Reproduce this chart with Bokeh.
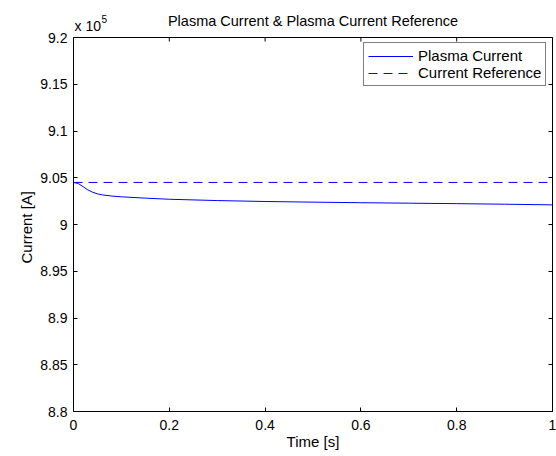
from bokeh.plotting import figure
from bokeh.models import (LinearAxis, FixedTicker, Label, Range1d, Legend,
                          LegendItem, CustomJSTickFormatter, Span, Title)
from bokeh.embed import file_html
from bokeh.resources import INLINE

# ---------------- data ----------------
time_s = [0.0, 0.01, 0.02, 0.03, 0.04, 0.05, 0.06, 0.08, 0.10, 0.15,
          0.20, 0.30, 0.40, 0.50, 0.60, 0.70, 0.80, 0.90, 1.00]
plasma_current = [904500, 904380, 904050, 903700, 903450, 903280, 903170,
                  903040, 902960, 902820, 902700, 902560, 902460, 902390,
                  902330, 902280, 902230, 902170, 902100]
reference_time = [0.0, 1.0]
current_reference = [904500, 904500]

y_scale_exp = 5
x_limits = [0.0, 1.0]
y_limits = [8.8, 9.2]
x_ticks = [0, 0.2, 0.4, 0.6, 0.8, 1.0]
x_tick_labels = ["0", "0.2", "0.4", "0.6", "0.8", "1"]
y_ticks = [8.8, 8.85, 8.9, 8.95, 9.0, 9.05, 9.1, 9.15, 9.2]
y_tick_labels = ["8.8", "8.85", "8.9", "8.95", "9", "9.05", "9.1", "9.15", "9.2"]

title_text = "Plasma Current & Plasma Current Reference"
x_label = "Time [s]"
y_label = "Current [A]"
series_names = ["Plasma Current", "Current Reference"]

# ---------------- layout constants ----------------
FONT = "Liberation Sans"
W, H = 556, 456
BORDER_BOTTOM = 45
BOX_TOP_PX = 37            # axes box top, measured from the canvas top
FRAME_H = H - BORDER_BOTTOM
BOX_H = FRAME_H - BOX_TOP_PX
data_per_px = (y_limits[1] - y_limits[0]) / BOX_H
y_view_end = y_limits[1] + BOX_TOP_PX * data_per_px   # room for title above box
TICK_PX = 4
YLABEL_OFFSET = 148        # lifts the y label from the frame bottom to the box centre

scale = 10 ** y_scale_exp
y_plasma = [v / scale for v in plasma_current]
y_ref = [v / scale for v in current_reference]

p = figure(width=W, height=H, output_backend="svg", toolbar_location=None,
           x_range=Range1d(*x_limits), y_range=Range1d(y_limits[0], y_view_end),
           min_border_left=73, min_border_right=4, min_border_top=0,
           min_border_bottom=BORDER_BOTTOM, x_axis_location=None,
           y_axis_location=None)
p.grid.visible = False
p.outline_line_color = None
p.background_fill_color = "white"
p.border_fill_color = "white"


def fmt(ticks, labels):
    return CustomJSTickFormatter(args=dict(tv=ticks, tl=labels), code="""
        for (let i = 0; i < tv.length; i++) {
            if (Math.abs(tv[i] - tick) < 1e-9) { return tl[i]; }
        }
        return "";
    """)


def style_axis(ax, show_labels):
    ax.axis_line_color = "black"
    ax.axis_line_width = 1
    ax.major_tick_in = TICK_PX
    ax.major_tick_out = 0
    ax.major_tick_line_color = "black"
    ax.minor_tick_line_color = None
    ax.major_label_text_font = FONT
    ax.major_label_text_color = "black"
    ax.major_label_text_font_size = "14px"
    if not show_labels:
        ax.major_label_text_alpha = 0
        ax.major_label_standoff = 0


xb = LinearAxis(ticker=FixedTicker(ticks=x_ticks), formatter=fmt(x_ticks, x_tick_labels),
                axis_label=x_label)
style_axis(xb, True)
xb.major_label_standoff = 8
xb.axis_label_standoff = 0
xb.axis_label_text_font = FONT
xb.axis_label_text_font_size = "15px"
xb.axis_label_text_font_style = "normal"
xb.axis_label_text_color = "black"
p.add_layout(xb, "below")

yl = LinearAxis(ticker=FixedTicker(ticks=y_ticks), formatter=fmt(y_ticks, y_tick_labels),
                bounds=(y_limits[0], y_limits[1]))
style_axis(yl, True)
yl.major_label_standoff = 6
p.add_layout(yl, "left")

# y axis label as a side title, aligned from the bottom and lifted to the box centre
p.add_layout(Title(text=y_label, align="left", offset=YLABEL_OFFSET,
                   standoff=6, text_font=FONT, text_font_size="15px",
                   text_font_style="normal", text_color="black"), "left")

yr = LinearAxis(ticker=FixedTicker(ticks=y_ticks), formatter=fmt(y_ticks, y_tick_labels),
                bounds=(y_limits[0], y_limits[1]))
style_axis(yr, False)
p.add_layout(yr, "right")

# top edge of the axes box with inward ticks
p.add_layout(Span(location=y_limits[1], dimension="width", line_color="black",
                  line_width=1))
n = len(x_ticks)
p.segment(x0=x_ticks, y0=[y_limits[1]] * n, x1=x_ticks,
          y1=[y_limits[1] - TICK_PX * data_per_px] * n,
          line_color="black", line_width=1)

r1 = p.line(time_s, y_plasma, line_color="#0000ff", line_width=1)
r2 = p.line(reference_time, y_ref, line_color="#0000ff", line_width=1, line_dash="9 6")

legend = Legend(items=[LegendItem(label=series_names[0], renderers=[r1]),
                       LegendItem(label=series_names[1], renderers=[r2])],
                location=(290, FRAME_H - 86))
legend.padding = 4
legend.spacing = 0
legend.glyph_width = 45
legend.glyph_height = 16
legend.label_height = 16
legend.label_standoff = 5
legend.label_text_font = FONT
legend.label_text_font_size = "15px"
legend.label_text_color = "black"
legend.border_line_color = "black"
legend.border_line_width = 1
legend.background_fill_alpha = 1
p.add_layout(legend)

# title and exponent note above the box
p.add_layout(Label(x=(x_limits[0] + x_limits[1]) / 2, y=y_limits[1], y_offset=17,
                   text=title_text, text_align="center", text_baseline="middle",
                   text_font=FONT, text_font_size="14.5px", text_color="black"))
p.add_layout(Label(x=x_limits[0], y=y_limits[1], x_offset=1, y_offset=12,
                   text="x 10", text_align="left", text_baseline="middle",
                   text_font=FONT, text_font_size="14px", text_color="black"))
p.add_layout(Label(x=x_limits[0], y=y_limits[1], x_offset=28, y_offset=19,
                   text=str(y_scale_exp), text_align="left", text_baseline="middle",
                   text_font=FONT, text_font_size="10px", text_color="black"))

open("out.html", "w").write(file_html(p, INLINE))
